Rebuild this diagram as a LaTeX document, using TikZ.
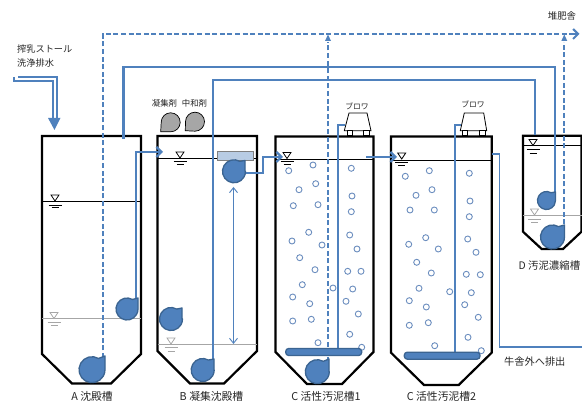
\documentclass[tikz,border=0pt]{standalone}
\usepackage{fontspec}
\setmainfont{Noto Sans CJK JP}
\usetikzlibrary{arrows.meta}
\definecolor{pipe}{HTML}{4F81BD}
\definecolor{pumpline}{HTML}{3B6491}
\definecolor{bubbleline}{HTML}{6C8EBF}
\definecolor{boxfill}{HTML}{B8CCE4}
\definecolor{lvl}{HTML}{A6A6A6}
\tikzset{
 tank/.style={draw=black,line width=2.2pt,fill=white,line join=miter},
 wline/.style={draw=black,line width=1pt},
 gline/.style={draw=lvl,line width=1pt},
 pipeline/.style={draw=pipe,line width=2.2pt},
 dashpipe/.style={draw=pipe,line width=2.2pt,dash pattern=on 5pt off 2.6pt},
 pumpbody/.style={draw=pumpline,fill=pipe,line width=1.3pt,line join=round},
 greypump/.style={draw=black,fill=lvl,line width=0.7pt},
 bubble/.style={draw=bubbleline,fill=white,line width=0.9pt},
 label/.style={inner sep=0pt,text=black!85,font=\fontsize{9.2}{10}\selectfont},
 biglabel/.style={inner sep=0pt,text=black!85,font=\fontsize{10.8}{12}\selectfont},
 blower/.style={draw=black,fill=white,line width=0.8pt},
}
\newcommand{\pumpshape}[5]{\draw[pumpbody] ({#1+#3*0.5},{#2-#3*0.866}) arc[start angle=60,end angle=360,radius=#3pt] -- (#4,#2) -- (#4,#5) -- cycle;}
\newcommand{\levelmark}[5]{% x, tri top, colour, tick1 y, tick2 y
 \draw[#3,line width=0.8pt,fill=white] ({#1-4},#2) -- ({#1+4},#2) -- (#1,{#2+6}) -- cycle;
 \draw[#3,line width=0.9pt] ({#1-6.5},#4) -- ({#1+6.5},#4) ({#1-3.5},#5) -- ({#1+3.5},#5);}
\begin{document}
\begin{tikzpicture}[x=1pt,y=-1pt]
\useasboundingbox (0,0) rectangle (582,403);
\clip (0,0) rectangle (582,403);
% tanks
\draw[tank] (42,136) -- (141,136) -- (141,354) -- (111,383.5) -- (72,383.5) -- (42,354) -- cycle;
\draw[tank] (157.5,136) -- (257,136) -- (257,351) -- (224,383.5) -- (190,383.5) -- (157.5,351) -- cycle;
\draw[tank] (275.5,136.5) -- (373.5,136.5) -- (373.5,352) -- (342,384) -- (307,384) -- (275.5,352) -- cycle;
\draw[tank] (391,136.5) -- (491.7,136.5) -- (491.7,352.7) -- (458.7,385) -- (424,385) -- (391,352.7) -- cycle;
\draw[tank] (523,135.7) -- (581.5,135.7) -- (581.5,231.7) -- (563,249) -- (541.7,249) -- (523,231.7) -- cycle;
% water levels
\draw[wline] (42,202) -- (141,202);
\draw[gline] (42,319) -- (141,319);
\draw[wline] (157.5,158.3) -- (257,158.3);
\draw[gline] (157.5,344.3) -- (257,344.3);
\draw[wline] (275.5,159.3) -- (373.5,159.3);
\draw[wline] (391,160.7) -- (491.7,160.7);
\draw[wline] (523,146) -- (581.5,146);
\draw[gline] (523,216) -- (582,216);
\levelmark{55}{195}{black}{205}{207.5}
\levelmark{54}{312.5}{lvl}{322.7}{325.3}
\levelmark{180}{152}{black}{161}{164}
\levelmark{171}{338}{lvl}{347}{351}
\levelmark{287}{152.5}{black}{161.7}{164.7}
\levelmark{401.7}{153}{black}{162.3}{165.3}
\levelmark{533}{139.5}{black}{149.5}{153}
\levelmark{534.5}{209}{lvl}{219}{222}
% bubbles
\foreach \bx/\by in {288.7/170.7,313/165,351.3/168.3,315.7/183.7,299/189.7,352/196,293.3/205.7,318/204.7,351.3/211.7,308.7/232.3,292/241,322/245,349.7/235,357/249,299.7/257.7,315/269.7,347.7/271.3,361/271.3,302.3/284.7,333/288,352.7/289,292.7/297,309.7/303.7,346/301.3,358.3/314,292.7/321,311.3/319.3,349.7/334.3,318/342.7,361.7/347.3,405.3/176.3,429.3/170.7,469.3/173.3,432/189.7,416/195.3,470/201,410/210,434.3/210,469.3/216.7,425.7/237.7,408.7/244.3,438.3/249,467.7/239,476/252.3,416.7/262.3,431.3/273,466.3/274.3,480.3/274.7,419/288.3,449.7/291.7,471.3/292.7,409.3/300.7,426.3/307,464.7/304.7,478.3/317.3,409.3/325.3,428.3/322.7,468/337.3,434.7/345.7,481.3/350.7}
 \draw[bubble] (\bx,\by) circle (3pt);
% dashed pipes
\draw[dashpipe] (103,358) -- (103,34) -- (574,34);
\draw[pipe,line width=2pt,-{Straight Barb[length=5pt,width=10pt]}] (572,34) -- (579.5,34);
\draw[dashpipe] (328,362) -- (328,42);
\draw[dashpipe] (564.3,232) -- (564.3,42);
\fill[pipe] (328,34.5) -- (331,41) -- (325,41) -- cycle;
\fill[pipe] (564.3,34.5) -- (567.3,41) -- (561.3,41) -- cycle;
% solid pipes
\draw[pipeline] (123.5,139) -- (123.5,67) -- (554.7,67) -- (554.7,195);
\draw[pipeline] (213,362) -- (213,80) -- (535.3,80) -- (535.3,135);
\draw[pipeline,-{Straight Barb[length=5pt,width=10pt]}] (136,300) -- (136,152) -- (163,152);
\draw[pipeline,-{Straight Barb[length=5pt,width=10pt]}] (245,172.7) -- (263,172.7) -- (263,157) -- (283,157);
\draw[pipeline,-{Straight Barb[length=5pt,width=10pt]}] (366,157) -- (397,157);
\draw[pipeline] (338.3,352) -- (338.3,125) -- (345,125);
\draw[pipeline] (454.7,355) -- (454.7,125) -- (461,125);
\draw[pipe,line width=1.5pt] (492,154) -- (499.3,154) -- (499.3,347) -- (582,347);
\draw[pipe,line width=0.9pt,{Straight Barb[length=5pt,width=8pt]}-{Straight Barb[length=5pt,width=8pt]}] (233.5,187) -- (233.5,344);
% inlet double line
\draw[pipe,line width=1.3pt] (18,77) -- (57,77) -- (57,120);
\draw[pipe,line width=1.3pt] (14,77) -- (14,81) -- (53,81) -- (53,120);
\fill[pipe] (54.5,130) -- (48,118) -- (60.5,118) -- cycle;
% diffusers
\draw[pumpbody,rounded corners=3pt] (285.7,348.5) rectangle (361.7,355.5);
\draw[pumpbody,rounded corners=3pt] (404.3,352.2) rectangle (480,359.2);
% pumps
\pumpshape{92}{369.7}{13}{105}{356}
\pumpshape{127}{309}{11}{138}{298}
\pumpshape{171}{319}{11.5}{182}{308}
\pumpshape{202.7}{370}{11.5}{214}{359}
\pumpshape{317.3}{371.7}{12}{329}{359}
\pumpshape{546.5}{200.5}{9}{555.5}{192}
\pumpshape{552.5}{237}{12}{564.5}{225}
\draw[draw=gray,fill=boxfill,line width=0.9pt] (217,151) rectangle (253.5,160.5);
\pumpshape{234}{171.3}{11.5}{245}{160.5}
% chemical pumps
\draw[greypump] (170.7,131.8) arc[start angle=-90,end angle=180,radius=9.5pt] -- (160.7,131.8) -- cycle;
\draw[greypump] (195,131.2) arc[start angle=-90,end angle=180,radius=9.5pt] -- (185.3,130.7) -- cycle;
% blowers
\draw[blower] (349,113) -- (367,113) -- (371,130.7) -- (344.3,130.7) -- cycle;
\draw[blower] (347,130.7) rectangle (352.5,135);
\draw[blower] (363.7,130.7) rectangle (369.7,135);
\draw[blower] (464.3,113) -- (483.7,113) -- (486.7,130.7) -- (460.3,130.7) -- cycle;
\draw[blower] (462,130.7) rectangle (467.5,135);
\draw[blower] (479.3,130.7) rectangle (485,135);
% labels
\node[label,anchor=west] (inlet1) at (17,49) {搾乳ストール};
\node[label,anchor=west] (inlet2) at (17,63.5) {洗浄排水};
\node[label,font=\fontsize{8.4}{10}\selectfont] (agent1) at (164.5,103) {凝集剤};
\node[label,font=\fontsize{8.4}{10}\selectfont] (agent2) at (194.5,103) {中和剤};
\node[label,font=\fontsize{7.8}{10}\selectfont] (bl1) at (357,106) {ブロワ};
\node[label,font=\fontsize{7.8}{10}\selectfont] (bl2) at (473,104) {ブロワ};
\node[label,font=\fontsize{9.4}{10}\selectfont] (compost) at (562,15.5) {堆肥舎};
\node[label,font=\fontsize{10.2}{12}\selectfont,anchor=west] (drain) at (504,362) {牛舎外へ排出};
\node[biglabel] (la) at (92,396.5) {A 沈殿槽};
\node[biglabel] (lb) at (211.5,396.5) {B 凝集沈殿槽};
\node[biglabel] (lc) at (326,396.5) {C 活性汚泥槽1};
\node[biglabel] (ld) at (441.5,396.5) {C 活性汚泥槽2};
\node[biglabel,anchor=west,font=\fontsize{10.4}{12}\selectfont] (le) at (518.5,266) {D 汚泥濃縮槽};
\end{tikzpicture}
\end{document}
